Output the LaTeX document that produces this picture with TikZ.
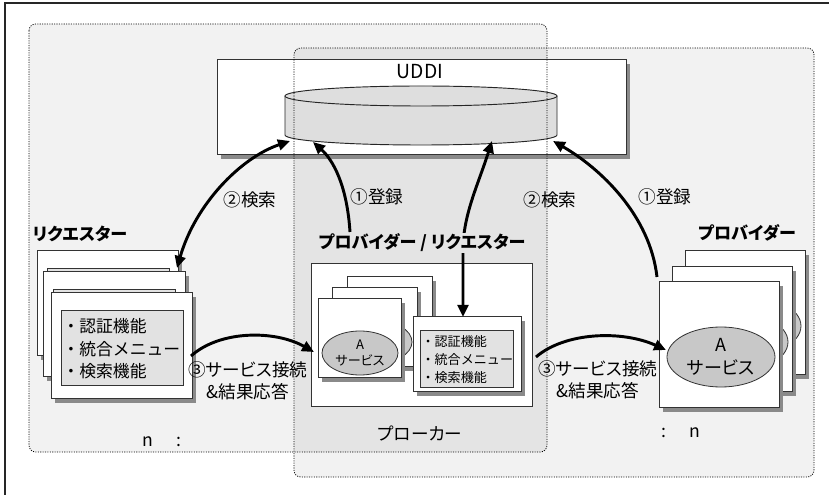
\documentclass[tikz,border=0pt]{standalone}
\usepackage{fontspec}
\setmainfont{Noto Sans CJK JP}[RawFeature=+palt]
\newfontfamily\jpfull{Noto Sans CJK JP}
\usetikzlibrary{arrows.meta,shadows,fit,calc,shapes.geometric}
\definecolor{bgA}{HTML}{F2F2F2}
\definecolor{bgB}{HTML}{E4E4E4}
\definecolor{cylc}{HTML}{DEDEDE}
\definecolor{innerc}{HTML}{E2E2E2}
\definecolor{ellc}{HTML}{C8C8C8}
\definecolor{shc}{HTML}{8A8A8A}
\tikzset{
  page/.style={draw=black!80, line width=0.75pt, fill=white, inner sep=0pt,
    drop shadow={shadow xshift=3pt, shadow yshift=-3pt, fill=shc, opacity=1}},
  gbox/.style={draw=black!80, line width=0.6pt, fill=innerc, inner sep=0pt},
  svc/.style={ellipse, draw=black!80, line width=0.6pt, fill=ellc, inner sep=0pt, align=center},
  arr/.style={line width=2.2pt, -{Triangle[length=9pt,width=8pt]}},
  darr/.style={line width=2.2pt, {Triangle[length=9pt,width=8pt]}-{Triangle[length=9pt,width=8pt]}},
  lbl/.style={font=\fontsize{13.2}{16.5}\selectfont, inner sep=1pt, align=center},
  blbl/.style={font=\fontsize{12.8}{16}\selectfont\bfseries, inner sep=1pt},
  region/.style={dash pattern=on 0.8pt off 1pt, line width=0.6pt, rounded corners=5pt},
}
\begin{document}
\begin{tikzpicture}[x=0.75pt,y=-0.75pt]
\useasboundingbox (0,0) rectangle (829,495);
% outer frame
\draw[black!85, line width=1pt] (5,495) -- (5,3) -- (829,3);
% regions
\fill[bgA, rounded corners=5pt] (29,24) rectangle (547,452);
\fill[bgA, rounded corners=5pt] (294,48) rectangle (814,477);
\begin{scope}
  \clip[rounded corners=5pt] (29,24) rectangle (547,452);
  \fill[bgB, rounded corners=5pt] (294,48) rectangle (814,477);
\end{scope}

% UDDI
\node[page, fit={(217,60)(626,155)}] (uddi) {};
\node[lbl, font=\fontsize{14.5}{16}\selectfont] (uddit) at (420,72) {UDDI};
\fill[cylc] (285,96) -- (285,135) arc[start angle=180, end angle=0, x radius=136, y radius=10] -- (557,96) -- cycle;
\draw[black!85, line width=0.7pt] (285,96) -- (285,135) arc[start angle=180, end angle=0, x radius=136, y radius=10] -- (557,96);
\draw[black!85, line width=0.7pt, fill=cylc] (421,96) ellipse[x radius=136, y radius=10];
\coordinate (cylA) at (290,141);
\coordinate (cylB) at (313,142);
\coordinate (cylC) at (492,141);
\coordinate (cylD) at (553,141);

% requester stack
\node[blbl, anchor=west] (reqlbl) at (31,234) {リクエスター};
\node[page, fit={(37,251)(178,356)}] (rq1) {};
\node[gbox, fit={(47,268)(169,343)}] (rq1in) {};
\node[page, fit={(43,272)(185,377)}] (rq2) {};
\node[gbox, fit={(53,289)(175,364)}] (rq2in) {};
\node[page, fit={(51,293)(192,399)}] (rq3) {};
\node[gbox, fit={(61,310)(183,385)}] (rq3in) {};
\node[lbl, anchor=west, align=left, font=\jpfull\fontsize{12.6}{16.8}\selectfont] (rqtxt) at (61,349) {・認証機能\\・統合メニュー\\・検索機能};
\node[lbl] (rqn) at (162,442) {n\hspace{1.3em}:};
\coordinate (rqtip) at (177,268);
\coordinate (rqout) at (191,356);

% broker
\node[draw=black!80, line width=0.75pt, fill=white, inner sep=0pt, fit={(311,264)(532,407)}] (brk) {};
\node[page, fit={(347,277)(432,356)}] (sv1) {};
\node[svc, minimum width=57pt, minimum height=33pt] (sv1e) at (389,331) {};
\node[page, fit={(332,288)(417,367)}] (sv2) {};
\node[svc, minimum width=57pt, minimum height=33pt] (sv2e) at (374,342) {};
\node[page, fit={(318,299)(401,378)}] (sv3) {};
\node[svc, minimum width=57pt, minimum height=33pt, font=\fontsize{9.8}{12}\selectfont] (sv3e) at (360,353) {A\\サービス};
\node[page, fit={(413,317)(521,392)}] (bm) {};
\node[gbox, fit={(420,330)(513,387)}] (bmin) {};
\node[lbl, anchor=west, align=left, font=\jpfull\fontsize{9.8}{13.5}\selectfont] (bmtxt) at (420,360) {・認証機能\\・統合メニュー\\・検索機能};
\node[lbl] (brkname) at (420,433) {プローカー};
\coordinate (bmtop) at (463,317);
\coordinate (bmout) at (536,357);
\coordinate (brkA) at (350,232);
\coordinate (sv3in) at (314,352);

% provider stack
\node[blbl] (pvlbl) at (747,233) {プロバイダー};
\node[page, fit={(685,251)(805,375)}] (pv1) {};
\node[svc, minimum width=81pt, minimum height=45pt] (pv1e) at (747,326) {};
\node[page, fit={(672,267)(792,392)}] (pv2) {};
\node[svc, minimum width=81pt, minimum height=45pt] (pv2e) at (734,342) {};
\node[page, fit={(659,282)(779,408)}] (pv3) {};
\node[svc, minimum width=81pt, minimum height=45pt, font=\fontsize{13.5}{17}\selectfont] (pv3e) at (721,357) {A\\サービス};
\node[lbl] (pvn) at (681,433) {:\hspace{1.3em}n};
\coordinate (pvtip) at (657,277);
\coordinate (pvin) at (666,350);

% arrows
\draw[darr] (rqtip) .. controls (195,205) and (240,158) .. (cylA);
\draw[arr] (brkA) .. controls (347,185) and (333,160) .. (cylB);
\draw[darr] (cylC) .. controls (478,185) and (463,215) .. (463,250) -- (bmtop);
\draw[arr] (pvtip) .. controls (650,215) and (600,168) .. (cylD);
\draw[arr] (rqout) .. controls (220,330) and (275,330) .. (sv3in);
\draw[arr] (bmout) .. controls (565,332) and (622,330) .. (pvin);

% labels
\node[blbl, fill=bgB, inner sep=1pt] (brklbl) at (422,243) {プロバイダー / リクエスター};
\node[lbl] (l1) at (250,200) {②検索};
\node[lbl] (l2) at (377,197) {①登録};
\node[lbl] (l3) at (550,200) {②検索};
\node[lbl] (l4) at (665,197) {①登録};
\node[lbl] (l5) at (248,381) {③サービス接続\\\&結果応答};
\node[lbl] (l6) at (598,380) {③サービス接続\\\&結果応答};

% region borders
\draw[region] (29,24) rectangle (547,452);
\draw[region] (294,48) rectangle (814,477);
\end{tikzpicture}
\end{document}
